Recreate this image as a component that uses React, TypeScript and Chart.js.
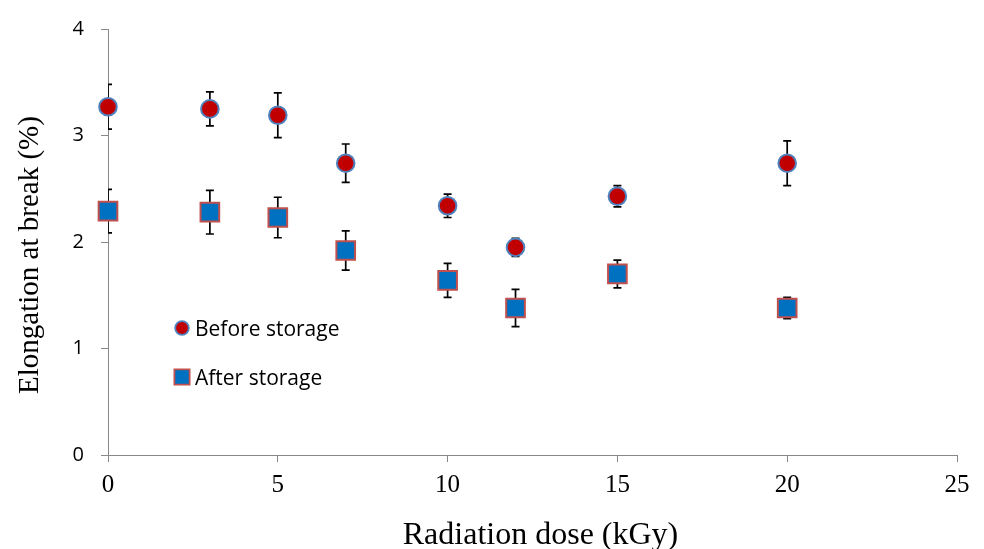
import React, { useEffect, useRef } from 'react';
import { Chart, registerables } from 'chart.js';

Chart.register(...registerables);

// ---- data ----
const doses = [0, 3, 5, 7, 10, 12, 15, 20];
const beforeStorage = [3.27, 3.25, 3.19, 2.74, 2.34, 1.95, 2.43, 2.74];
const beforeError = [0.21, 0.16, 0.21, 0.18, 0.11, 0.085, 0.1, 0.21];
const afterStorage = [2.29, 2.28, 2.23, 1.92, 1.64, 1.38, 1.7, 1.38];
const afterError = [0.205, 0.205, 0.19, 0.185, 0.16, 0.175, 0.13, 0.1];
const seriesLabels = ['Before storage', 'After storage'];
const xTitle = 'Radiation dose (kGy)';
const yTitle = 'Elongation at break (%)';
const xRange = [0, 25];
const xStep = 5;
const yRange = [0, 4];
const yStep = 1;

const errorSets = [beforeError, afterError];

const SANS = "'Open Sans', 'Noto Sans', sans-serif";
const SERIF = "'Liberation Serif', 'DejaVu Serif', serif";
const AXIS_GRAY = '#898989';

const errorBarPlugin = {
  id: 'errorBars',
  beforeDatasetsDraw(chart: any) {
    const { ctx, chartArea } = chart;
    const xs = chart.scales.x;
    const ys = chart.scales.y;
    ctx.save();
    ctx.beginPath();
    ctx.rect(chartArea.left, 0, chart.width - chartArea.left, chart.height);
    ctx.clip();
    ctx.strokeStyle = '#000000';
    ctx.lineWidth = 1.7;
    chart.data.datasets.forEach((ds: any, i: number) => {
      const errs = errorSets[i];
      ds.data.forEach((pt: any, j: number) => {
        const px = xs.getPixelForValue(pt.x);
        const top = ys.getPixelForValue(pt.y + errs[j]);
        const bot = ys.getPixelForValue(pt.y - errs[j]);
        const cap = 4;
        ctx.beginPath();
        ctx.moveTo(px, top);
        ctx.lineTo(px, bot);
        ctx.moveTo(px - cap, top);
        ctx.lineTo(px + cap, top);
        ctx.moveTo(px - cap, bot);
        ctx.lineTo(px + cap, bot);
        ctx.stroke();
      });
    });
    ctx.restore();
  },
};

const titlesAndLegendPlugin = {
  id: 'titlesAndLegend',
  afterDraw(chart: any) {
    const { ctx, chartArea } = chart;
    ctx.save();
    // axis titles
    ctx.fillStyle = '#000000';
    ctx.textAlign = 'center';
    ctx.textBaseline = 'alphabetic';
    ctx.font = `32px ${SERIF}`;
    ctx.fillText(xTitle, (chartArea.left + chartArea.right) / 2 + 8, chart.height - 5);
    ctx.font = `29px ${SERIF}`;
    ctx.save();
    ctx.translate(38, 255);
    ctx.rotate(-Math.PI / 2);
    ctx.fillText(yTitle, 0, 0);
    ctx.restore();

    // legend
    const lx = chartArea.left + 74;
    const rows = [chartArea.top + 299, chartArea.top + 348];
    chart.data.datasets.forEach((ds: any, i: number) => {
      const cy = rows[i];
      ctx.fillStyle = ds.backgroundColor;
      ctx.strokeStyle = ds.borderColor;
      ctx.lineWidth = 1.8;
      ctx.beginPath();
      if (ds.pointStyle === 'circle') {
        ctx.arc(lx, cy, 6.8, 0, Math.PI * 2);
      } else {
        ctx.rect(lx - 7.6, cy - 7.6, 15.2, 15.2);
      }
      ctx.fill();
      ctx.stroke();
      ctx.fillStyle = '#000000';
      ctx.font = `21px ${SANS}`;
      ctx.textAlign = 'left';
      ctx.textBaseline = 'alphabetic';
      ctx.fillText(ds.label, lx + 13, cy + 7.5);
    });
    ctx.restore();
  },
};

export default function App() {
  const canvasRef = useRef<HTMLCanvasElement | null>(null);

  useEffect(() => {
    if (!canvasRef.current) return;
    const chart = new Chart(canvasRef.current, {
      type: 'scatter',
      data: {
        datasets: [
          {
            label: seriesLabels[0],
            data: doses.map((d, i) => ({ x: d, y: beforeStorage[i] })),
            pointStyle: 'circle',
            pointRadius: 8.8,
            pointBorderWidth: 2,
            backgroundColor: '#C00000',
            borderColor: '#4F81BD',
            clip: false as any,
          },
          {
            label: seriesLabels[1],
            data: doses.map((d, i) => ({ x: d, y: afterStorage[i] })),
            pointStyle: 'rect',
            pointRadius: 13.2,
            pointBorderWidth: 2,
            backgroundColor: '#0070C0',
            borderColor: '#C0504D',
            clip: false as any,
          },
        ],
      },
      options: {
        responsive: false,
        animation: false,
        events: [],
        layout: { padding: { top: 24, right: 27, left: 0, bottom: 0 } },
        plugins: {
          legend: { display: false },
          tooltip: { enabled: false },
          title: { display: false },
        },
        scales: {
          x: {
            type: 'linear',
            min: xRange[0],
            max: xRange[1],
            afterFit(scale: any) {
              scale.height = 94;
            },
            ticks: {
              stepSize: xStep,
              padding: 8,
              color: '#000000',
              font: { family: SERIF, size: 25 },
            },
            grid: {
              display: true,
              drawOnChartArea: false,
              drawTicks: true,
              tickLength: 7,
              color: AXIS_GRAY,
              lineWidth: 1,
            },
            border: { display: true, color: AXIS_GRAY, width: 1 },
          },
          y: {
            type: 'linear',
            min: yRange[0],
            max: yRange[1],
            afterFit(scale: any) {
              scale.width = 108;
            },
            ticks: {
              stepSize: yStep,
              padding: 17,
              color: '#000000',
              font: { family: SANS, size: 20 },
            },
            grid: {
              display: true,
              drawOnChartArea: false,
              drawTicks: true,
              tickLength: 7,
              color: AXIS_GRAY,
              lineWidth: 1,
            },
            border: { display: true, color: AXIS_GRAY, width: 1 },
          },
        },
      },
      plugins: [errorBarPlugin, titlesAndLegendPlugin],
    });
    return () => chart.destroy();
  }, []);

  return (
    <div style={{ position: 'absolute', left: 0, top: 0, width: 984, height: 549, background: '#ffffff' }}>
      <canvas ref={canvasRef} width={984} height={549} style={{ display: 'block' }} />
    </div>
  );
}
